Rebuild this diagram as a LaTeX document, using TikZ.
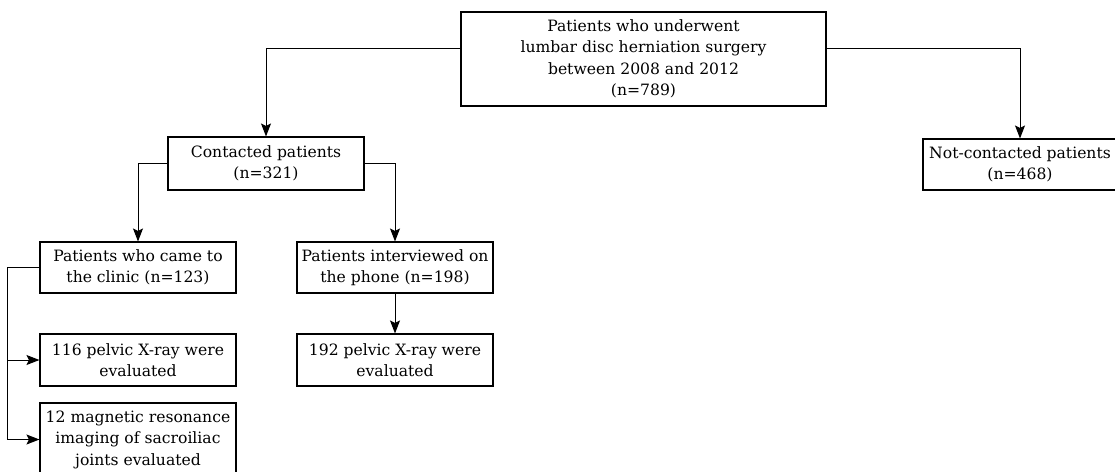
\documentclass[tikz,border=0pt]{standalone}
\usepackage{fontspec}
\setmainfont{DejaVu Serif}
\usetikzlibrary{arrows.meta,calc}
\begin{document}
\begin{tikzpicture}[x=1pt,y=-1pt,
  box/.style={draw,line width=1.1pt,rectangle,align=center,inner sep=1pt,
    font=\fontsize{15.6}{21.5}\selectfont},
  arr/.style={line width=1pt,-{Stealth[length=13pt,width=10pt,inset=2.5pt]}},
  ln/.style={line width=1pt}]
\useasboundingbox (0,0) rectangle (1115,471);
\node[box,minimum width=365pt,minimum height=94pt] (top) at (643.5,59)
  {Patients who underwent\\lumbar disc herniation surgery\\between 2008 and 2012\\(n=789)};
\node[box,minimum width=196pt,minimum height=53pt] (contacted) at (266,163.5)
  {Contacted patients\\(n=321)};
\node[box,minimum width=194pt,minimum height=51pt] (notc) at (1020,164.5)
  {Not-contacted patients\\(n=468)};
\node[box,minimum width=196pt,minimum height=51pt] (clinic) at (138,267.5)
  {Patients who came to\\the clinic (n=123)};
\node[box,minimum width=196pt,minimum height=51pt] (phone) at (395,267.5)
  {Patients interviewed on\\the phone (n=198)};
\node[box,minimum width=196pt,minimum height=52pt] (xa) at (138,360)
  {116 pelvic X-ray were\\evaluated};
\node[box,minimum width=196pt,minimum height=52pt] (xb) at (395,360)
  {192 pelvic X-ray were\\evaluated};
\node[box,minimum width=196pt,minimum height=73pt] (mri) at (138,439.5)
  {12 magnetic resonance\\imaging of sacroiliac\\joints evaluated};
\draw[arr] ($(top.north west)+(0,37.5)$) -| (contacted.north);
\draw[arr] ($(top.north east)+(0,37.5)$) -| (notc.north);
\draw[arr] (contacted.west) -| (clinic.north);
\draw[arr] (contacted.east) -| (phone.north);
\draw[arr] (phone.south) -- (xb.north);
\draw[ln] (clinic.west) -- ++(-32,0) coordinate (lx);
\draw[arr] (lx) |- (xa.west);
\draw[arr] (lx) |- (mri.west);
\end{tikzpicture}
\end{document}
